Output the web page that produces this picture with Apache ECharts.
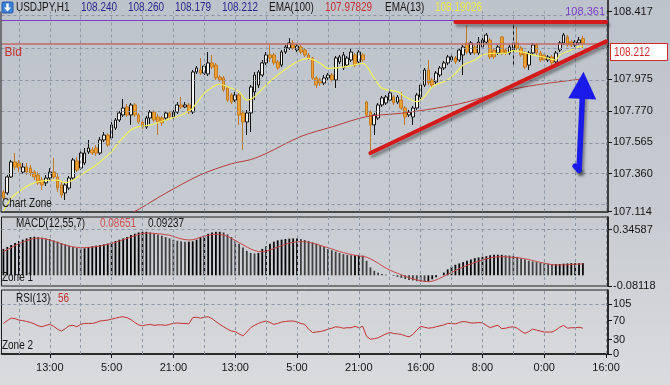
<!DOCTYPE html>
<html><head><meta charset="utf-8">
<script src="https://cdn.jsdelivr.net/npm/echarts@6/dist/echarts.min.js"></script>
<style>html,body{margin:0;padding:0;background:#cdd1d6;}#c{width:670px;height:385px;}</style>
</head><body><div id="c"></div>
<script>
// ---- price data (hourly candles) ----
const opens = [
107.241,107.235,107.339,107.437,107.430,107.371,107.404,107.397,107.371,107.352,
107.319,107.300,107.332,107.371,107.339,107.287,107.235,107.267,107.332,107.443,
107.397,107.430,107.502,107.515,107.528,107.495,107.580,107.612,107.593,107.658,
107.710,107.743,107.795,107.743,107.808,107.743,107.697,107.665,107.723,107.762,
107.730,107.723,107.723,107.756,107.730,107.762,107.808,107.795,107.808,107.762,
108.023,108.036,108.016,108.010,108.082,108.068,107.990,107.984,107.919,107.873,
107.840,107.873,107.756,107.697,107.756,107.893,107.938,108.003,108.082,108.134,
108.134,108.088,108.068,108.153,108.179,108.212,108.166,108.186,108.166,108.134,
108.114,107.984,107.971,107.951,107.984,108.003,107.971,108.088,108.049,108.068,
108.101,108.134,108.088,108.134,107.827,107.762,107.678,107.723,107.808,107.821,
107.840,107.860,107.827,107.840,107.788,107.743,107.730,107.788,107.860,107.938,
108.036,107.971,107.958,108.003,108.049,108.082,108.101,108.114,108.101,108.134,
108.212,108.147,108.186,108.147,108.186,108.218,108.231,108.166,108.147,108.251,
108.166,108.147,108.166,108.212,108.179,108.147,108.068,108.147,108.199,108.147,
108.134,108.101,108.121,108.088,108.166,108.212,108.251,108.218,108.199,108.212,
108.240];
const closes = [
107.202,107.339,107.437,107.404,107.397,107.404,107.371,107.365,107.339,107.300,
107.287,107.332,107.371,107.339,107.267,107.222,107.287,107.332,107.450,107.384,
107.495,107.495,107.528,107.495,107.495,107.580,107.612,107.547,107.678,107.710,
107.756,107.788,107.743,107.808,107.743,107.697,107.665,107.723,107.762,107.710,
107.697,107.691,107.756,107.730,107.762,107.808,107.795,107.808,107.762,108.023,
108.049,108.016,108.062,108.082,108.055,107.984,107.971,107.906,107.840,107.827,
107.873,107.743,107.697,107.756,107.925,108.003,108.023,108.082,108.134,108.114,
108.082,108.049,108.153,108.186,108.212,108.179,108.192,108.153,108.134,108.114,
107.984,107.938,107.951,107.984,108.003,107.971,108.114,108.121,108.134,108.114,
108.153,108.068,108.153,108.101,107.743,107.678,107.743,107.808,107.854,107.860,
107.886,107.821,107.860,107.788,107.730,107.762,107.788,107.873,107.938,108.036,
107.951,107.938,108.016,108.049,108.082,108.121,108.121,108.088,108.166,108.186,
108.153,108.212,108.147,108.218,108.231,108.264,108.121,108.121,108.186,108.147,
108.147,108.186,108.212,108.179,108.134,108.055,108.147,108.199,108.147,108.101,
108.101,108.121,108.082,108.147,108.212,108.264,108.199,108.199,108.218,108.231,
108.212];
const highs = [
107.254,107.352,107.450,107.495,107.450,107.430,107.430,107.417,107.384,107.371,
107.339,107.352,107.397,107.463,107.358,107.306,107.300,107.345,107.463,107.469,
107.515,107.528,107.580,107.534,107.547,107.599,107.632,107.625,107.697,107.723,
107.769,107.847,107.814,107.821,107.821,107.756,107.710,107.736,107.775,107.775,
107.749,107.736,107.769,107.769,107.775,107.827,107.860,107.827,107.821,108.036,
108.062,108.114,108.075,108.153,108.134,108.082,108.003,107.997,107.932,107.886,
107.893,107.886,107.775,107.775,107.938,108.023,108.036,108.101,108.153,108.199,
108.147,108.101,108.166,108.199,108.244,108.231,108.205,108.199,108.179,108.147,
108.121,107.997,107.984,108.003,108.016,108.016,108.127,108.134,108.153,108.127,
108.173,108.147,108.166,108.147,107.834,107.775,107.756,107.821,107.867,107.873,
107.899,107.873,107.873,107.893,107.801,107.775,107.801,107.886,107.951,108.049,
108.101,107.984,108.029,108.062,108.095,108.134,108.140,108.127,108.179,108.199,
108.329,108.225,108.199,108.251,108.244,108.277,108.244,108.179,108.199,108.257,
108.179,108.199,108.342,108.316,108.192,108.160,108.160,108.212,108.212,108.160,
108.147,108.134,108.134,108.160,108.225,108.277,108.264,108.231,108.231,108.251,
108.260];
const lows = [
107.189,107.222,107.332,107.384,107.371,107.358,107.352,107.345,107.319,107.287,
107.254,107.280,107.319,107.326,107.241,107.202,107.189,107.254,107.319,107.371,
107.384,107.417,107.489,107.482,107.476,107.482,107.567,107.534,107.580,107.645,
107.697,107.730,107.730,107.678,107.730,107.684,107.652,107.652,107.684,107.697,
107.612,107.671,107.710,107.717,107.717,107.749,107.782,107.788,107.749,107.749,
108.010,108.003,108.003,107.997,108.042,107.971,107.958,107.893,107.827,107.814,
107.827,107.678,107.515,107.612,107.632,107.840,107.919,107.990,108.068,108.088,
108.068,108.036,108.055,108.140,108.166,108.166,108.153,108.140,108.121,108.101,
107.971,107.919,107.932,107.938,107.971,107.958,107.919,108.075,108.036,108.055,
108.088,108.055,108.075,108.088,107.730,107.482,107.612,107.710,107.795,107.808,
107.827,107.808,107.814,107.775,107.678,107.730,107.678,107.775,107.847,107.925,
107.938,107.925,107.945,107.990,108.036,108.068,108.088,108.075,108.088,108.003,
108.140,108.134,108.134,108.134,108.173,108.205,108.108,108.108,108.134,108.134,
108.134,108.134,108.055,108.166,108.121,108.042,108.036,108.134,108.134,108.088,
108.088,108.088,108.068,108.075,108.153,108.199,108.186,108.186,108.186,108.199,
108.179];
// EMA lines read at sample bars: [barIndex, value]
const ema13 = [[0,107.115],[2,107.200],[4,107.243],[7,107.291],[10,107.313],[14,107.319],[16,107.302],[18,107.319],
[20,107.352],[24,107.417],[28,107.504],[30,107.569],[33,107.645],[35,107.667],[38,107.678],[42,107.710],[46,107.743],
[48,107.769],[49,107.788],[52,107.884],[55,107.938],[56,107.943],[58,107.927],[61,107.895],[63,107.840],[65,107.862],
[68,107.938],[71,108.003],[74,108.057],[76,108.090],[79,108.112],[82,108.080],[84,108.047],[87,108.051],[90,108.064],
[93,108.079],[96,107.982],[98,107.917],[102,107.895],[104,107.862],[107,107.829],[109,107.862],[111,107.927],
[115,107.971],[117,108.014],[119,108.068],[122,108.101],[124,108.134],[127,108.145],[130,108.145],[132,108.162],
[135,108.149],[137,108.134],[140,108.119],[143,108.101],[144,108.134],[147,108.166],[149,108.188],[150,108.190]];
const ema100 = [[26,107.020],[33,107.100],[42,107.233],[51,107.353],[59,107.425],[64,107.452],[68,107.492],[77,107.603],
[85,107.665],[94,107.732],[103,107.754],[112,107.787],[120,107.827],[129,107.895],[138,107.939],[150,107.978]];
// ---- MACD(12,55,7) ----
const macdHist = [
0.200,0.215,0.230,0.245,0.260,0.270,0.280,0.290,0.293,0.290,
0.285,0.280,0.275,0.265,0.255,0.245,0.235,0.225,0.215,0.207,
0.205,0.205,0.215,0.220,0.225,0.230,0.235,0.240,0.250,0.260,
0.270,0.280,0.290,0.305,0.315,0.325,0.330,0.330,0.325,0.318,
0.310,0.300,0.290,0.280,0.270,0.262,0.258,0.255,0.255,0.258,
0.270,0.290,0.300,0.315,0.325,0.330,0.330,0.325,0.310,0.290,
0.265,0.240,0.210,0.185,0.170,0.165,0.170,0.200,0.220,0.240,
0.255,0.265,0.270,0.275,0.278,0.280,0.280,0.275,0.268,0.260,
0.250,0.240,0.228,0.215,0.200,0.190,0.180,0.170,0.160,0.155,
0.152,0.152,0.152,0.150,0.110,0.060,0.035,0.020,0.010,0.005,
0.000,-0.005,-0.012,-0.020,-0.028,-0.035,-0.040,-0.045,-0.048,-0.050,
-0.045,-0.030,-0.015,0.000,0.020,0.045,0.065,0.080,0.090,0.100,
0.110,0.120,0.130,0.135,0.140,0.145,0.152,0.155,0.155,0.155,
0.152,0.150,0.148,0.140,0.130,0.120,0.110,0.105,0.100,0.095,
0.090,0.088,0.085,0.085,0.086,0.088,0.090,0.092,0.092,0.092,
0.0924];
const macdSignal = [
0.180,0.195,0.210,0.225,0.240,0.252,0.263,0.273,0.280,0.282,
0.280,0.275,0.267,0.258,0.250,0.240,0.230,0.222,0.216,0.212,
0.210,0.210,0.211,0.214,0.218,0.222,0.228,0.235,0.242,0.250,
0.260,0.270,0.280,0.290,0.300,0.310,0.318,0.320,0.320,0.318,
0.315,0.312,0.308,0.304,0.295,0.285,0.277,0.271,0.268,0.270,
0.278,0.288,0.297,0.304,0.309,0.311,0.310,0.305,0.295,0.280,
0.265,0.248,0.232,0.215,0.200,0.188,0.181,0.179,0.183,0.192,
0.203,0.214,0.225,0.235,0.244,0.250,0.254,0.255,0.254,0.250,
0.244,0.236,0.227,0.218,0.210,0.200,0.190,0.180,0.172,0.165,
0.158,0.152,0.147,0.143,0.138,0.125,0.110,0.092,0.073,0.055,
0.040,0.027,0.015,0.004,-0.008,-0.018,-0.027,-0.035,-0.042,-0.046,
-0.048,-0.045,-0.035,-0.022,-0.008,0.008,0.022,0.036,0.050,0.063,
0.075,0.086,0.097,0.107,0.116,0.125,0.132,0.137,0.140,0.141,
0.140,0.138,0.136,0.134,0.130,0.125,0.120,0.112,0.105,0.098,
0.092,0.086,0.081,0.078,0.078,0.079,0.080,0.082,0.084,0.085,
0.0865];
// ---- RSI(13) ----
const rsi = [
64,70,75,74,71,70,68,66,63,59,
57,60,62,58,52,48,53,59,60,57,
62,64,64,64,66,69,70,71,73,75,
77,78,76,72,66,61,59,61,62,60,
61,61,60,62,64,65,64,64,63,76,
77,75,77,78,74,68,62,57,52,48,
47,42,38,46,55,60,64,67,69,66,
62,64,67,68,69,69,67,64,62,52,
45,46,47,49,52,54,57,56,54,55,
55,58,55,58,37,31,32,34,38,42,
45,43,42,41,38,36,41,50,58,56,
54,55,57,59,61,64,64,63,66,68,
67,65,65,66,65,60,55,58,60,53,
54,56,57,54,48,43,47,52,50,48,
46,46,46,50,56,60,54,55,55,56,
54];
// ---- axes / ticks ----
const nCats = 157;
const tickIdx = [12,28,44,60,76,92,108,124,140,156];
const tickLabels = ['13:00','5:00','21:00','13:00','5:00','21:00','16:00','8:00','0:00','16:00'];
const vGridIdx = [4,12,20,28,36,44,52,60,68,76,84,92,100,108,116,124,132,140,148,156];
const priceGrid = [107.155,107.360,107.565,107.770,107.975,108.180,108.385];
const priceLabels = [107.114,107.360,107.565,107.770,107.975,108.417];
const macdLabels = [-0.08118,0.34587];
const macdGrid = [0.34587];
const rsiLabels = [0,30,70,105];
const rsiGrid = [105];
// ---- annotations ----
const bid = 108.212;
const hiLine = 108.361;
const trendUp = [[95,107.495],[156,108.222]];
const trendTop = [[117,108.347],[156,108.347]];
const arrowShaft = [[149,107.384],[150,107.936]];
const arrowHook = [[148,107.410],[149,107.384]];

const font = "'Liberation Sans',Arial,sans-serif";
const NARROW = 0.83;
const cats = Array.from({length:nCats},(_,i)=>String(i));
const candle = opens.map((o,i)=>[o, closes[i], lows[i], highs[i]]);
const gridStyle = {type:[3,3], color:'#8b95a3', width:1};
function gridLines(v,h){
  return {silent:true, symbol:['none','none'], animation:false, label:{show:false}, lineStyle:gridStyle,
    data:[...v.map(i=>({xAxis:i})), ...h.map(y=>({yAxis:y}))]};
}
function xAx(g, extra){
  return Object.assign({type:'category', gridIndex:g, data:cats, boundaryGap:true,
    axisLabel:{show:false}, axisTick:{show:false}, splitLine:{show:false},
    axisLine:{show:false, onZero:false}}, extra||{});
}
function yAx(g, min, max, labels, fmt){
  return {type:'value', gridIndex:g, position:'right', min:min, max:max, splitLine:{show:false},
    axisLine:{show:true, onZero:false, lineStyle:{color:'#111', width:1.5}},
    axisTick:{show:true, customValues:labels, length:4, lineStyle:{color:'#111'}},
    axisLabel:{show:true, customValues:labels, formatter:fmt, margin:5, color:'#151515', fontSize:11, fontFamily:font}};
}
const shadowRed = {type:'solid', color:'#d41a1a', width:4, cap:'round', shadowColor:'rgba(30,30,30,0.45)', shadowBlur:3, shadowOffsetX:2, shadowOffsetY:3};
const shadowBlue = {type:'solid', color:'#1a1aea', width:5.5, cap:'round', shadowColor:'rgba(30,30,30,0.45)', shadowBlur:3, shadowOffsetX:2, shadowOffsetY:3};

const chart = echarts.init(document.getElementById('c'));
chart.setOption({
  animation:false,
  backgroundColor:{type:'linear', x:0, y:0, x2:0, y2:1, colorStops:[
    {offset:0, color:'#bdc3cb'},{offset:0.55, color:'#c7cbd1'},{offset:1, color:'#dadbdd'}]},
  grid:[
    {left:1.5, width:606.5, top:11.5, height:200},
    {left:1.5, width:606.5, top:217, height:69, show:true, borderColor:'#1e1e1e', borderWidth:1},
    {left:1.5, width:606.5, top:290, height:64, show:true, borderColor:'#1e1e1e', borderWidth:1}
  ],
  xAxis:[
    xAx(0, {axisLine:{show:true, onZero:false, lineStyle:{color:'#1e1e1e', width:1.5}}}),
    xAx(1),
    xAx(2, {axisLine:{show:true, onZero:false, lineStyle:{color:'#111', width:1.5}},
      axisTick:{show:true, alignWithLabel:true, length:4, interval:(i)=>tickIdx.includes(i), lineStyle:{color:'#111'}},
      axisLabel:{show:true, interval:(i)=>tickIdx.includes(i), formatter:(v,i)=>{const k=tickIdx.indexOf(i); return k>=0?tickLabels[k]:'';},
        margin:8, color:'#151515', fontSize:11, fontFamily:font}})
  ],
  yAxis:[
    yAx(0, 107.114, 108.417, priceLabels, v=>v.toFixed(3)),
    yAx(1, -0.08118, 0.44224, macdLabels, v=>v.toFixed(5)),
    yAx(2, 0, 134, rsiLabels, v=>String(Math.round(v)))
  ],
  series:[
    {type:'line', name:'gridMain', xAxisIndex:0, yAxisIndex:0, data:[], z:1, markLine:gridLines(vGridIdx, priceGrid)},
    {type:'candlestick', name:'USDJPY,H1', xAxisIndex:0, yAxisIndex:0, data:candle, barWidth:3.2, z:2,
      itemStyle:{color:'#f4f4f4', color0:'#f0a232', borderColor:'#121212', borderColor0:'#c27a22', borderWidth:1}},
    {type:'line', name:'EMA(100)', xAxisIndex:0, yAxisIndex:0, data:ema100, smooth:0.3, symbol:'none', z:3,
      lineStyle:{color:'#b83a3a', width:1}},
    {type:'line', name:'EMA(13)', xAxisIndex:0, yAxisIndex:0, data:ema13, smooth:0.3, symbol:'none', z:3,
      lineStyle:{color:'#f2f25c', width:1.2}},
    {type:'line', name:'annot', xAxisIndex:0, yAxisIndex:0, data:[], z:6,
      markLine:{silent:true, animation:false, symbol:['none','none'], data:[
        {yAxis:hiLine, lineStyle:{color:'#7a3cc8', width:1, type:'solid'},
          label:{show:true, position:'insideEndTop', formatter:'108.361', color:'#7a3cc8', fontSize:11, fontFamily:font, distance:3}},
        {yAxis:bid, lineStyle:{color:'#c46a6a', width:1.5, type:'solid'},
          label:{show:true, position:'insideStartBottom', formatter:'Bid', color:'#c83232', fontSize:12, fontFamily:font, distance:3}},
        [{coord:trendTop[0], lineStyle:shadowRed, label:{show:false}}, {coord:trendTop[1]}],
        [{coord:trendUp[0], lineStyle:shadowRed, label:{show:false}}, {coord:trendUp[1]}],
        [{coord:arrowHook[0], lineStyle:shadowBlue, label:{show:false}}, {coord:arrowHook[1]}],
        [{coord:arrowShaft[0], lineStyle:shadowBlue, label:{show:false}, symbol:'none'},
         {coord:arrowShaft[1], symbol:'triangle', symbolSize:[28,27]}]
      ]}},
    {type:'line', name:'gridMacd', xAxisIndex:1, yAxisIndex:1, data:[], z:1, markLine:gridLines(vGridIdx, macdGrid)},
    {type:'bar', name:'MACD', xAxisIndex:1, yAxisIndex:1, data:macdHist, barWidth:1.8, z:2,
      itemStyle:{color:(p)=> (p.dataIndex>0 && macdHist[p.dataIndex] < macdHist[p.dataIndex-1]) ? '#404040' : '#050505'}},
    {type:'line', name:'Signal', xAxisIndex:1, yAxisIndex:1, data:macdSignal, symbol:'none', z:3,
      lineStyle:{color:'#c84646', width:1}},
    {type:'line', name:'gridRsi', xAxisIndex:2, yAxisIndex:2, data:[], z:1, markLine:gridLines(vGridIdx, rsiGrid)},
    {type:'line', name:'RSI(13)', xAxisIndex:2, yAxisIndex:2, data:rsi, symbol:'none', z:3,
      lineStyle:{color:'#c43232', width:1}}
  ]
});

function t(x,y,s,c){return {type:'text', x:x, y:y, scaleX:NARROW, z:100, silent:true, style:{text:s, fill:c, font:'12px '+font, verticalAlign:'middle'}};}
const yb = chart.convertToPixel({yAxisIndex:0}, bid);
const navy = '#28288c', red = '#c43030', blk = '#161616';
chart.setOption({graphic:[
  {type:'rect', z:100, shape:{x:2, y:2, width:11, height:11, r:1}, style:{fill:'#3b7fd6', stroke:'#2a5ea8', lineWidth:1}},
  {type:'polygon', z:101, shape:{points:[[7.5,11.5],[4,7.5],[6.3,7.5],[6.3,3.5],[8.7,3.5],[8.7,7.5],[11,7.5]]}, style:{fill:'#ffffff'}},
  t(16,7.5,'USDJPY,H1',blk),
  t(81,7.5,'108.240',navy), t(128,7.5,'108.260',navy), t(175,7.5,'108.179',navy), t(222,7.5,'108.212',navy),
  t(269,7.5,'EMA(100)',blk), t(325,7.5,'107.97829',red),
  t(385,7.5,'EMA(13)',blk), t(435,7.5,'108.19026','#eaea48'),
  t(2,204,'Chart Zone',blk),
  t(16,224,'MACD(12,55,7)',blk), t(100,224,'0.08651','#d05050'), t(148,224,'0.09237',blk),
  t(2,278,'Zone 1',blk),
  t(16,299,'RSI(13)',blk), t(58,299,'56',red),
  t(2,346,'Zone 2',blk),
  {type:'line', z:90, shape:{x1:608, y1:0, x2:608, y2:12}, style:{stroke:'#111', lineWidth:1.5}},
  {type:'line', z:90, shape:{x1:1, y1:11.5, x2:1, y2:212}, style:{stroke:'#1e1e1e', lineWidth:1}},
  {type:'rect', z:95, shape:{x:610.5, y:Math.round(yb)+0.5, width:57, height:17}, style:{fill:'#ffffff', stroke:'#d02828', lineWidth:1}},
  {type:'text', z:96, x:614, y:Math.round(yb)+9.5, scaleX:NARROW, style:{text:'108.212', fill:'#d02828', font:'12px '+font, verticalAlign:'middle'}}
]});
</script></body></html>
